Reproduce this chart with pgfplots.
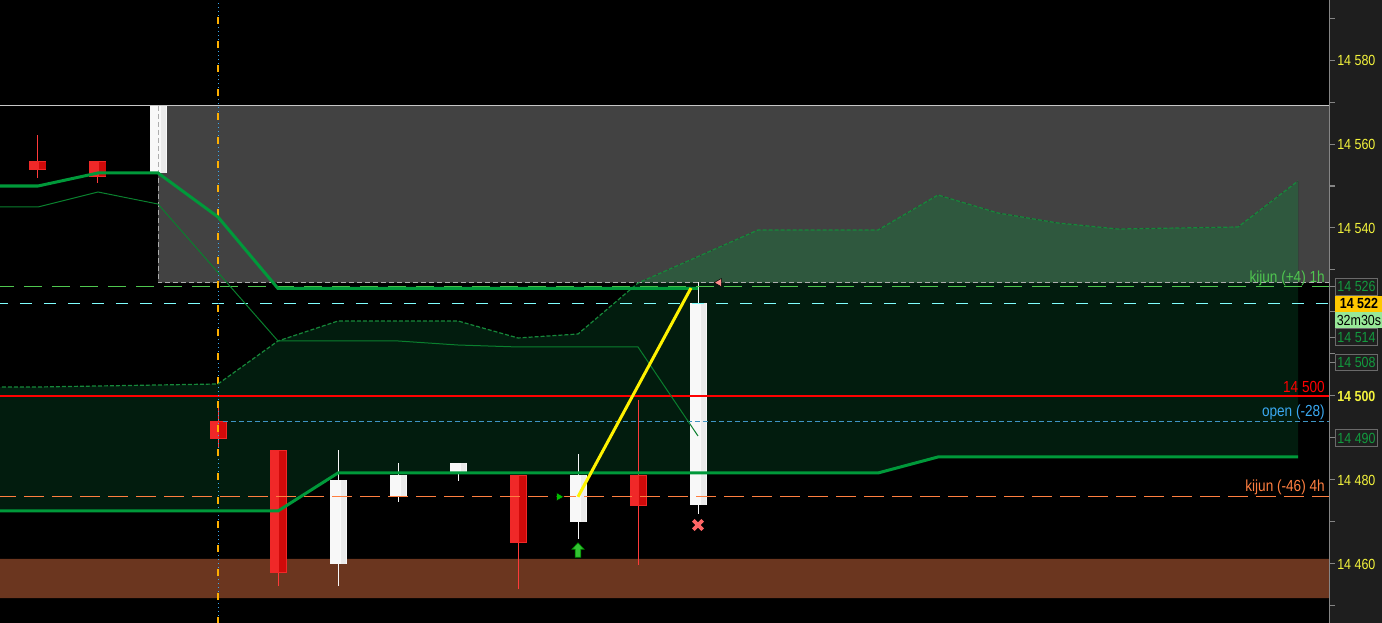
\documentclass[border=0pt]{standalone}
\usepackage{fontspec}
\setmainfont{Liberation Sans}
\newfontfamily\chartfont[FakeStretch=0.85]{Liberation Sans}
\usepackage{pgfplots}
\pgfplotsset{compat=1.18}

\definecolor{panel}{HTML}{1E1E1E}
\definecolor{zone}{HTML}{424242}
\definecolor{kumo}{HTML}{021C0E}
\definecolor{kumolt}{HTML}{2F583E}
\definecolor{spana}{HTML}{16883A}
\definecolor{kij}{HTML}{00993A}
\definecolor{thinl}{HTML}{0A7F2E}
\definecolor{band}{HTML}{6B361F}
\definecolor{candred}{HTML}{F02828}
\definecolor{candreddk}{HTML}{D00A0A}
\definecolor{candredlt}{HTML}{FF3A3A}
\definecolor{candwhite}{HTML}{F8F8F8}
\definecolor{candwhitedk}{HTML}{EAEAEA}
\definecolor{openc}{HTML}{3F95C4}
\definecolor{openlab}{HTML}{3AA8F0}
\definecolor{kfour}{HTML}{FF7F40}
\definecolor{kone}{HTML}{4FC64F}
\definecolor{cyanl}{HTML}{7FFFFF}
\definecolor{ticklab}{HTML}{F4F43C}
\definecolor{boxgreen}{HTML}{129A3E}
\definecolor{boxline}{HTML}{6A6A6A}
\definecolor{gold}{HTML}{FFC800}
\definecolor{timer}{HTML}{98E898}
\definecolor{session}{HTML}{FFB000}

% green up arrow for the entry signal
\pgfdeclareplotmark{uparrow}{%
  \pgfpathmoveto{\pgfqpoint{0pt}{5.4pt}}%
  \pgfpathlineto{\pgfqpoint{4.5pt}{0.6pt}}%
  \pgfpathlineto{\pgfqpoint{2.1pt}{0.6pt}}%
  \pgfpathlineto{\pgfqpoint{2.1pt}{-5.4pt}}%
  \pgfpathlineto{\pgfqpoint{-2.1pt}{-5.4pt}}%
  \pgfpathlineto{\pgfqpoint{-2.1pt}{0.6pt}}%
  \pgfpathlineto{\pgfqpoint{-4.5pt}{0.6pt}}%
  \pgfpathclose
  \pgfusepathqfillstroke}

\newcommand\labfont{\chartfont\fontsize{12}{14}\selectfont}
\newcommand\pricefont{\chartfont\fontsize{11}{13}\selectfont}

\begin{document}
\begin{tikzpicture}
\begin{axis}[
    width=1036.5pt, height=467.25pt, scale only axis,
    xmin=-0.6333, xmax=22.4,
    ymin=14445.95, ymax=14594.29,
    axis line style={draw=none}, ticks=none,
    axis background/.style={fill=black},
    unbounded coords=jump,
  ]

  % grey zone
  \addplot[draw=none, fill=zone] coordinates {
      (2,14527) (22.4,14527) (22.4,14569.05) (2,14569.05) (2,14527)};
  \addplot[color=black!22, line width=0.75pt] coordinates {(-0.7,14569.05) (21.533,14569.05)};

  % cloud: span A forward, span B back
  \addplot[draw=none, fill=kumo] coordinates {
      (-0.7,14502.14) (0,14502.14) (1,14502.38) (2,14502.62) (3,14502.86)
      (4,14513.10) (5,14517.86) (6,14517.86) (7,14517.86) (8,14513.81)
      (9,14514.76) (10,14526.9) (11,14533.2) (12,14539.52) (13,14539.52)
      (14,14539.52) (15,14547.86) (16,14543.57) (17,14541.19) (18,14539.76)
      (19,14540.00) (20,14540.24) (21,14551.19)
      (21,14485.48) (15,14485.48) (14,14481.67) (5,14481.67) (4,14472.62) (-0.7,14472.62)};
  % part of the cloud lying on the grey zone
  \addplot[draw=none, fill=kumolt] coordinates {
      (10.016,14527) (11,14533.2) (12,14539.52) (13,14539.52)
      (14,14539.52) (15,14547.86) (16,14543.57) (17,14541.19) (18,14539.76)
      (19,14540.00) (20,14540.24) (21,14551.19) (21,14527)};

  % brown band
  \addplot[draw=none, fill=band] coordinates {
      (-0.7,14451.90) (21.533,14451.90) (21.533,14461.19) (-0.7,14461.19) (-0.7,14451.90)};

  % candles: wicks
  \addplot[candredlt, line width=0.75pt] coordinates {
      (0,14562.14) (0,14551.90) (0,nan)
      (1,14555.95) (1,14550.71) (1,nan)
      (3,14497.14) (3,14487.6) (3,nan)
      (4,14487.14) (4,14454.83) (4,nan)
      (8,14481.19) (8,14454.05) (8,nan)
      (10,14499.05) (10,14459.76)};
  \addplot[candwhite, line width=0.75pt] coordinates {
      (5,14487.14) (5,14454.76) (5,nan)
      (6,14484.05) (6,14474.83) (6,nan)
      (7,14484.05) (7,14479.83) (7,nan)
      (9,14486.19) (9,14466.03) (9,nan)
      (11,14527.07) (11,14471.90)};
  % candles: bodies (a darker right half gives the shaded look)
  \addplot[candred, line width=12.75pt] coordinates {
      (0,14555.95) (0,14553.81) (0,nan)
      (1,14555.95) (1,14552.14) (1,nan)
      (3,14494.05) (3,14489.83) (3,nan)
      (4,14487.14) (4,14457.93) (4,nan)
      (8,14481.19) (8,14464.92) (8,nan)
      (10,14481.19) (10,14473.88)};
  \addplot[candreddk, line width=5pt, xshift=3.4pt] coordinates {
      (0,14555.7) (0,14554.05) (0,nan)
      (1,14555.7) (1,14552.4) (1,nan)
      (3,14493.8) (3,14490.1) (3,nan)
      (4,14486.9) (4,14458.2) (4,nan)
      (8,14480.95) (8,14465.2) (8,nan)
      (10,14480.95) (10,14474.1)};
  \addplot[candwhite, line width=12.75pt] coordinates {
      (2,14569.05) (2,14553.17) (2,nan)
      (5,14480.00) (5,14460.07) (5,nan)
      (6,14481.19) (6,14476.19) (6,nan)
      (7,14484.05) (7,14481.67) (7,nan)
      (9,14481.19) (9,14470.08) (9,nan)
      (11,14522.20) (11,14474.05)};
  \addplot[candwhitedk, line width=4pt, xshift=4.3pt] coordinates {
      (2,14569.05) (2,14553.17) (2,nan)
      (5,14480.00) (5,14460.07) (5,nan)
      (6,14481.19) (6,14476.19) (6,nan)
      (7,14484.05) (7,14481.67) (7,nan)
      (9,14481.19) (9,14470.08) (9,nan)
      (11,14522.20) (11,14474.05)};

  % grey zone border
  \addplot[color=black!32, line width=0.75pt, dash pattern=on 3.75pt off 2.25pt] coordinates {
      (2,14569.05) (2,14527) (21.533,14527)};

  % level lines
  \addplot[kone, line width=0.75pt, dash pattern=on 13.5pt off 7.5pt] coordinates {(-0.7,14526) (21.533,14526)};
  \addplot[cyanl, line width=0.75pt, dash pattern=on 9pt off 9pt] coordinates {(-0.7,14522) (21.533,14522)};
  \addplot[red, line width=1.5pt] coordinates {(-0.7,14500) (21.533,14500)};
  \addplot[openc, line width=0.75pt, dash pattern=on 3.75pt off 2.25pt] coordinates {(3.08,14494) (21.533,14494)};
  \addplot[kfour, line width=0.75pt, dash pattern=on 15pt off 6pt] coordinates {(-0.7,14476) (21.533,14476)};

  % session line
  \addplot[color=openlab, line width=0.75pt, dash pattern=on 0.75pt off 2.25pt] coordinates {(3,14440) (3,14600)};
  \addplot[color=session, line width=0.9pt, dash pattern=on 5.25pt off 12.75pt] coordinates {(3,14440) (3,14600)};

  % ichimoku lines
  \addplot[spana, line width=0.9pt, dash pattern=on 3pt off 1.5pt] coordinates {
      (-0.7,14502.14) (0,14502.14) (1,14502.38) (2,14502.62) (3,14502.86)
      (4,14513.10) (5,14517.86) (6,14517.86) (7,14517.86) (8,14513.81)
      (9,14514.76) (10,14526.9) (11,14533.2) (12,14539.52) (13,14539.52)
      (14,14539.52) (15,14547.86) (16,14543.57) (17,14541.19) (18,14539.76)
      (19,14540.00) (20,14540.24) (21,14551.19)};
  \addplot[kij, line width=2.25pt] coordinates {
      (-0.7,14472.62) (4,14472.62) (5,14481.67) (14,14481.67) (15,14485.48) (21,14485.48)};
  \addplot[thinl, line width=0.75pt] coordinates {
      (-0.7,14545) (0,14545) (1,14548.57) (2,14545.71) (3,14529.4) (4,14513.10)
      (6,14513.10) (7,14512.14) (8,14511.67) (10,14511.67) (11,14490.48)};
  \addplot[kij, line width=2.25pt] coordinates {
      (-0.7,14550) (0,14550) (1,14553.10) (2,14553.10) (3,14542.62) (4,14525.6) (11,14525.6)};

  % trade
  \addplot[yellow, line width=2.25pt] coordinates {(9,14476) (10.883,14525.7)};
  \addplot[only marks, mark=triangle*, mark size=3.6pt,
      mark options={rotate=-90, fill=green!75!black, draw=none}] coordinates {(8.683,14476)};
  \addplot[only marks, mark=triangle*, mark size=3.6pt,
      mark options={rotate=90, fill=red!45!white, draw=none}] coordinates {(11.35,14527)};
  \addplot[only marks, mark=uparrow,
      mark options={fill=green!70!black!80!white, draw=green!55!black, line width=0.5pt}] coordinates {(9,14463.33)};
  \addplot[only marks, mark=x, mark size=5pt,
      mark options={draw=red!60!white, line width=2.8pt}] coordinates {(11,14469.29)};

  % labels on the chart
  \node[anchor=east, inner sep=0pt, text=kone, font=\labfont]
      at (axis cs:21.45,14528.1) {kijun (+4) 1h};
  \node[anchor=east, inner sep=0pt, text=red, font=\labfont]
      at (axis cs:21.45,14502.14) {14 500};
  \node[anchor=east, inner sep=0pt, text=openlab, font=\labfont]
      at (axis cs:21.45,14496.19) {open (-28)};
  \node[anchor=east, inner sep=0pt, text=kfour, font=\labfont]
      at (axis cs:21.45,14478.33) {kijun (-46) 4h};

  % price scale
  \fill[panel] (axis cs:21.533,14440) rectangle (axis cs:22.5,14600);
  \draw[color=black!48, line width=0.75pt] (axis cs:21.533,14440) -- (axis cs:21.533,14600);
  \pgfplotsinvokeforeach{14450,14460,...,14590}{
    \draw[color=black!48, line width=0.75pt] (axis cs:21.533,#1) -- (axis cs:21.617,#1);
  }
  \pgfplotsinvokeforeach{14526,14514,14508,14490}{
    \draw[color=black!48, line width=0.75pt] (axis cs:21.533,#1) -- (axis cs:21.617,#1);
  }
  \pgfplotsinvokeforeach{14580,14560,14540,14480,14460}{
    \node[anchor=west, inner sep=0pt, text=ticklab, font=\pricefont]
        at (axis cs:21.65,#1) {\pgfmathparse{int(#1/1000)}\pgfmathresult\ \pgfmathparse{int(mod(#1,1000))}\pgfmathresult};
  }
  \node[anchor=west, inner sep=0pt, text=ticklab, font=\pricefont\bfseries]
      at (axis cs:21.65,14500) {14 500};
  \pgfplotsinvokeforeach{14526,14514,14508,14490}{
    \node[anchor=west, draw=boxline, fill=black!88, text=boxgreen, line width=0.75pt,
        minimum width=31.5pt, minimum height=12.5pt, inner sep=0.5pt,
        font=\pricefont]
        at (axis cs:21.617,#1) {\pgfmathparse{int(#1/1000)}\pgfmathresult\ \pgfmathparse{int(mod(#1,1000))}\pgfmathresult};
  }
  \node[anchor=west, fill=gold, text=black, minimum width=35.5pt, minimum height=12pt,
      inner sep=0.5pt, font=\pricefont\bfseries]
      at (axis cs:21.617,14522) {14 522};
  \node[anchor=west, fill=timer, text=black, minimum width=35.5pt, minimum height=12pt,
      inner sep=0.5pt, font=\pricefont]
      at (axis cs:21.617,14518) {32m30s};
\end{axis}
\end{tikzpicture}
\end{document}
